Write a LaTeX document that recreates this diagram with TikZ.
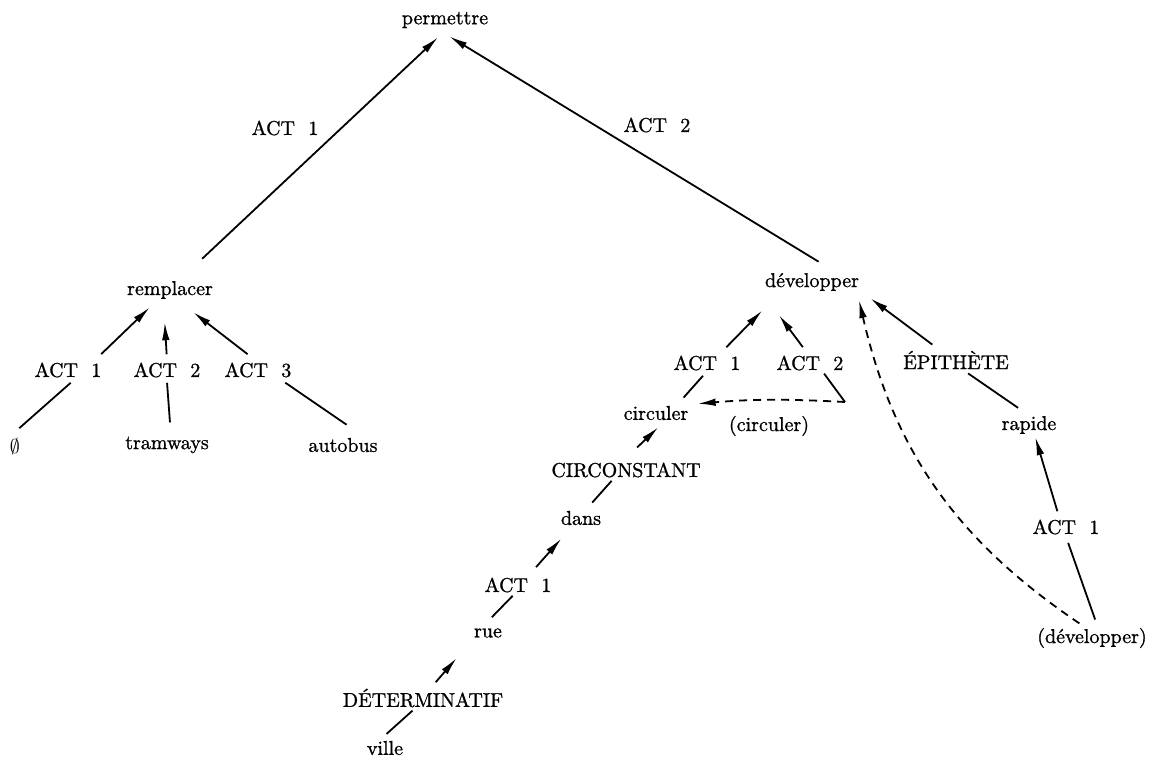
\documentclass[tikz,border=0pt]{standalone}
\usepackage{fontspec}
\newfontfamily\heavy{Latin Modern Roman}[FakeBold=1]
\usetikzlibrary{arrows.meta}

\tikzset{
  word/.style={inner sep=1pt, font=\heavy},
  link/.style={line width=0.9pt},
  arr/.style={link, -{Latex[length=9pt,width=3.8pt]}},
  dasharr/.style={arr, dash pattern=on 4pt off 3pt}
}

\begin{document}
\begin{tikzpicture}[x=0.5pt,y=-0.5pt]
  \useasboundingbox (0,0) rectangle (1151,759);

  % Top verb
  \node[word] (perm) at (445,20) {permettre};
  \node[word] (topact1) at (285,128) {ACT~~1};
  \node[word] (topact2) at (657,125) {ACT~~2};

  % Left branch
  \node[word] (rempl) at (170,290) {remplacer};
  \node[word] (act1a) at (68,370) {ACT~~1};
  \node[word] (act2a) at (167,370) {ACT~~2};
  \node[word] (act3a) at (258,370) {ACT~~3};
  \node[word] (empt) at (15,447) {$\emptyset$};
  \node[word] (tram) at (167,445) {tramways};
  \node[word] (auto) at (343,445) {autobus};

  % Right branch
  \node[word] (devel) at (812,282) {développer};
  \node[word] (act1b) at (707,363) {ACT~~1};
  \node[word] (act2b) at (810,363) {ACT~~2};
  \node[word] (circ) at (656,413) {circuler};
  \node[word] (circp) at (769,426) {(circuler)};
  \node[word] (cirk) at (626,470) {CIRCONSTANT};
  \node[word] (dans) at (581,518) {dans};
  \node[word] (act1c) at (518,585) {ACT~~1};
  \node[word] (rue) at (488,633) {rue};
  \node[word] (determ) at (423,698) {DÉTERMINATIF};
  \node[word] (ville) at (385,748) {ville};
  \node[word] (epith) at (956,360) {ÉPITHÈTE};
  \node[word] (rapide) at (1029,425) {rapide};
  \node[word] (act1d) at (1066,527) {ACT~~1};
  \node[word] (devel2) at (1092,638) {(développer)};
  \coordinate (turn) at (845,402);

  % Top arrows
  \draw[arr, shorten <=14.6pt, shorten >=5pt] (rempl.46) -- (perm.-88);
  \draw[arr, shorten <=8.6pt, shorten >=5.7pt] (devel.28) -- (perm.-117);

  % remplacer
  \draw[arr, shorten <=4.4pt, shorten >=4.4pt] (act1a.20) -- (rempl.219);
  \draw[arr, shorten <=3pt, shorten >=10.5pt] (act2a.north) -- (rempl.240);
  \draw[arr, shorten <=4.9pt, shorten >=9pt] (act3a.105) -- (rempl.-51);
  \draw[link, shorten <=7.8pt, shorten >=2.3pt] (empt.131) -- (act1a.-58);
  \draw[link, shorten <=6pt, shorten >=1.5pt] (tram.70) -- (act2a.-91);
  \draw[link, shorten <=9.6pt, shorten >=2.6pt] (auto.26) -- (act3a.-23);

  % développer
  \draw[arr, shorten <=4.2pt, shorten >=12pt] (act1b.36) -- (devel.199);
  \draw[arr, shorten <=3.8pt, shorten >=13.6pt] (act2b.105) -- (devel.south west);
  \draw[link, shorten <=4pt, shorten >=2pt] (circ.23) -- (act1b.-98);
  \draw[link, shorten <=0.5pt] (act2b.-36) -- (turn);
  \draw[dasharr, shorten >=3.5pt] (turn) to[bend right=4] (circ.14);
  \draw[arr, shorten <=9.2pt, shorten >=3.5pt] (cirk.103) -- (circ.-52);
  \draw[link, shorten <=4pt, shorten >=0.7pt] (dans.58) -- (cirk.216);
  \draw[arr, shorten <=5.4pt, shorten >=7.4pt] (act1c.42) -- (dans.224);
  \draw[link, shorten <=6.1pt, shorten >=0.7pt] (rue.124) -- (act1c.246);
  \draw[arr, shorten <=2.7pt, shorten >=12pt] (determ.52) -- (rue.204);
  \draw[link, shorten <=3.5pt, shorten >=0.7pt] (ville.111) -- (determ.231);
  \draw[arr, shorten <=3.3pt, shorten >=5.6pt] (epith.148) -- (devel.-11);
  \draw[link, shorten <=5.2pt, shorten >=1.7pt] (rapide.102) -- (epith.-51);
  \draw[arr, shorten <=3.1pt, shorten >=0.5pt] (act1d.125) -- (rapide.-62);
  \draw[link, shorten <=3.2pt, shorten >=3.2pt] (devel2.67) -- (act1d.south);
  \draw[dasharr, shorten <=2pt, shorten >=3.5pt] (devel2.127) to[out=146,in=-77] (devel.-14);
\end{tikzpicture}
\end{document}
